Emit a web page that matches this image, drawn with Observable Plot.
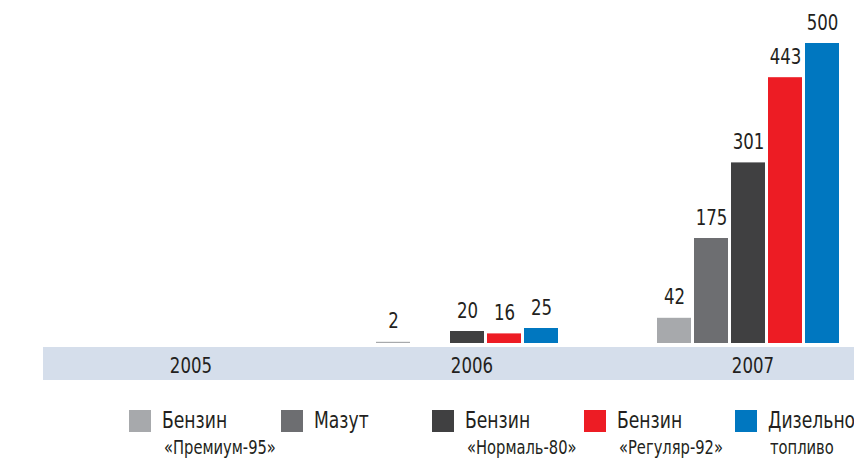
<!DOCTYPE html>
<html>
<head>
<meta charset="utf-8">
<script src="https://cdn.jsdelivr.net/npm/d3@7"></script>
<script src="https://cdn.jsdelivr.net/npm/@observablehq/plot@0.6"></script>
<style>
  html, body { margin: 0; padding: 0; background: #fff; overflow: hidden; }
  body { width: 854px; height: 458px; font-family: "DejaVu Sans Condensed", "DejaVu Sans", sans-serif; font-stretch: condensed; color: #231f20; }
  #wrap { position: relative; width: 854px; height: 385px; }
  #band { position: absolute; left: 43px; top: 347px; width: 811px; height: 33px; background: #d5deeb; }
  #chart { position: absolute; left: 0; top: 0; }
  #legend { position: relative; width: 854px; height: 73px; }
  .item { position: absolute; top: 25px; }
  .sw { position: absolute; left: 0; top: 0; width: 22px; height: 22px; }
  .l1 { position: absolute; left: 33px; top: -4px; font-size: 23px; white-space: nowrap; line-height: 28px; transform: scaleX(0.83); transform-origin: 0 0; }
  .l2 { position: absolute; left: 35px; top: 25px; font-size: 19px; white-space: nowrap; line-height: 24px; transform: scaleX(0.86); transform-origin: 0 0; }
</style>
</head>
<body>
<div id="wrap"><div id="band"></div><div id="chart"></div></div>
<div id="legend"></div>
<script>
const years = ["2005", "2006", "2007"];
const series = ["Бензин «Премиум-95»", "Мазут", "Бензин «Нормаль-80»", "Бензин «Регуляр-92»", "Дизельное топливо"];
const legendLine1 = ["Бензин", "Мазут", "Бензин", "Бензин", "Дизельное"];
const legendLine2 = ["«Премиум-95»", "", "«Нормаль-80»", "«Регуляр-92»", "топливо"];
const colors = ["#a7a9ac", "#6d6e71", "#404041", "#ed1c24", "#0077c0"];
const values2005 = [0, 0, 0, 0, 0];
const values2006 = [2, 0, 20, 16, 25];
const values2007 = [42, 175, 301, 443, 500];

const valuesByYear = [values2005, values2006, values2007];
const data = [];
years.forEach((yr, i) => series.forEach((s, j) => data.push({year: yr, series: s, value: valuesByYear[i][j]})));
const labeled = data.filter(d => d.value > 0);

const fontFamily = '"DejaVu Sans Condensed", "DejaVu Sans", sans-serif';

const chart = Plot.plot({
  width: 854,
  height: 385,
  marginLeft: 91,
  marginRight: 9,
  marginTop: 43,
  marginBottom: 42,
  style: {background: "transparent", fontFamily, color: "#231f20"},
  fx: {domain: years, paddingInner: 0.326, paddingOuter: 0, label: null},
  x: {domain: series, paddingInner: 0.08, paddingOuter: 0.04, axis: null},
  y: {domain: [0, 500], axis: null},
  color: {domain: series, range: colors},
  marks: [
    Plot.barY(data, {fx: "year", x: "series", y: "value", fill: "series"}),
    Plot.text(labeled, {fx: "year", x: "series", y: "value", text: d => String(d.value), dy: -14, lineAnchor: "bottom", fontSize: 22, fill: "#231f20"}),
    Plot.axisFx({anchor: "bottom", tickSize: 0, tickPadding: 14, fontSize: 22, fill: "#231f20", dx: 4, label: null})
  ]
});
// narrow the text glyphs horizontally to mimic the condensed face
chart.querySelectorAll("text").forEach(t => {
  const tr = t.getAttribute("transform") || "";
  t.setAttribute("transform", (tr + " scale(0.84,1)").trim());
});
document.getElementById("chart").appendChild(chart);

const legend = document.getElementById("legend");
series.forEach((s, i) => {
  const it = document.createElement("div");
  it.className = "item";
  it.style.left = (129 + i * 151.5) + "px";
  it.innerHTML = `<div class="sw" style="background:${colors[i]}"></div><div class="l1">${legendLine1[i]}</div>` + (legendLine2[i] ? `<div class="l2">${legendLine2[i]}</div>` : "");
  legend.appendChild(it);
});
</script>
</body>
</html>
